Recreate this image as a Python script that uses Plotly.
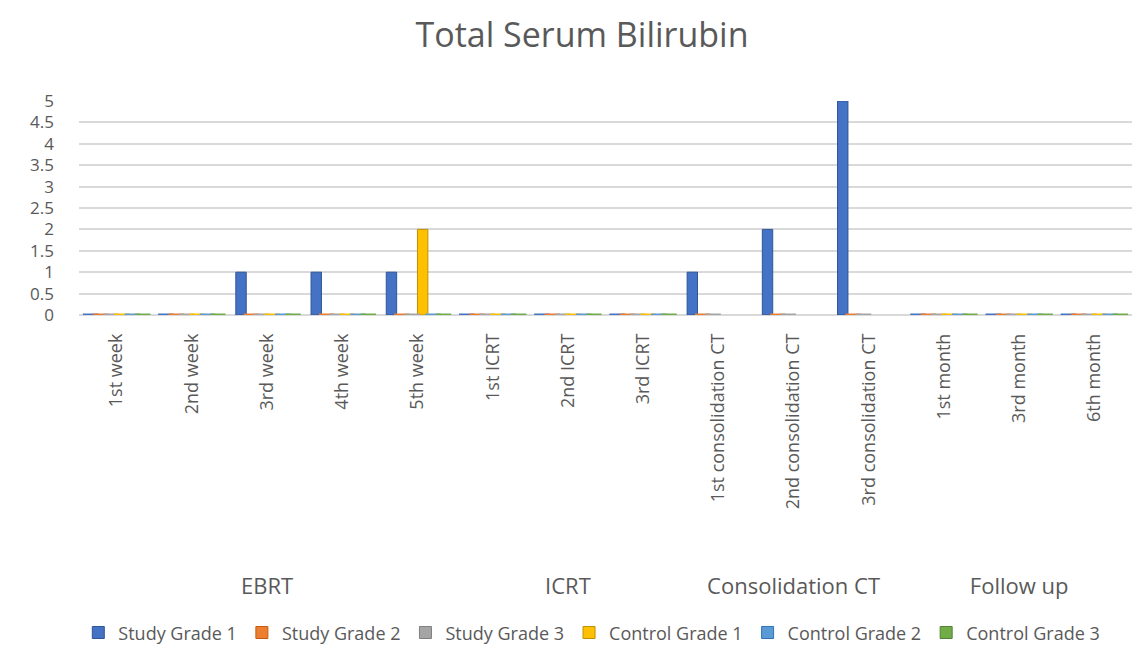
import plotly.graph_objects as go

fases = ['EBRT'] * 5 + ['ICRT'] * 3 + ['Consolidation CT'] * 3 + ['Follow up'] * 3
momentos = ['1st week', '2nd week', '3rd week', '4th week', '5th week',
            '1st ICRT', '2nd ICRT', '3rd ICRT',
            '1st consolidation CT', '2nd consolidation CT', '3rd consolidation CT',
            '1st month', '3rd month', '6th month']

study_grade_1 = [0, 0, 1, 1, 1, 0, 0, 0, 1, 2, 5, 0, 0, 0]
study_grade_2 = [0, 0, 0, 0, 0, 0, 0, 0, 0, 0, 0, 0, 0, 0]
study_grade_3 = [0, 0, 0, 0, 0, 0, 0, 0, 0, 0, 0, 0, 0, 0]
control_grade_1 = [0, 0, 0, 0, 2, 0, 0, 0, None, None, None, 0, 0, 0]
control_grade_2 = [0, 0, 0, 0, 0, 0, 0, 0, None, None, None, 0, 0, 0]
control_grade_3 = [0, 0, 0, 0, 0, 0, 0, 0, None, None, None, 0, 0, 0]

series = [
    ('Study Grade 1', study_grade_1, '#4472C4', '#2F5597'),
    ('Study Grade 2', study_grade_2, '#ED7D31', '#C55A11'),
    ('Study Grade 3', study_grade_3, '#A5A5A5', '#7F7F7F'),
    ('Control Grade 1', control_grade_1, '#FFC000', '#BF9000'),
    ('Control Grade 2', control_grade_2, '#5B9BD5', '#2E75B6'),
    ('Control Grade 3', control_grade_3, '#70AD47', '#548235'),
]

# centro de cada grupo (EBRT, ICRT...) a partir dos indices das categorias
grupos = list(dict.fromkeys(fases))
centros = []
for g in grupos:
    idx = [i for i, f in enumerate(fases) if f == g]
    centros.append(sum(idx) / len(idx))

fig = go.Figure()
for nome, valores, cor, borda in series:
    fig.add_trace(go.Bar(x=momentos, y=valores, name=nome,
                         offsetgroup=nome,
                         marker=dict(color=cor, line=dict(color=borda, width=1))))
    # os zeros aparecem como um "piso" fino no grafico original
    zeros = [0 if v == 0 else None for v in valores]
    fig.add_trace(go.Scatter(x=momentos, y=zeros, mode='markers',
                             offsetgroup=nome, showlegend=False, hoverinfo='skip',
                             marker=dict(symbol='line-ew', size=11,
                                         line=dict(color=cor, width=3))))

# eixo auxiliar so para os rotulos dos grupos
fig.add_trace(go.Scatter(x=centros, y=[None] * len(centros), xaxis='x2',
                         showlegend=False, hoverinfo='skip'))

fig.update_layout(
    width=1148, height=655,
    paper_bgcolor='white', plot_bgcolor='white',
    font=dict(family='Open Sans', color='#595959', size=18),
    title=dict(text='Total Serum Bilirubin', x=0.5, xanchor='center',
               y=0.958, yanchor='middle', font=dict(size=34, color='#595959')),
    barmode='group', bargap=0.17, bargroupgap=0,
    scattermode='group', scattergap=0.17,
    margin=dict(l=71, r=24, t=93, b=342),
    legend=dict(orientation='h', x=0.487, xanchor='center', y=-1.485, yanchor='middle',
                font=dict(size=18, color='#595959'), itemclick=False,
                itemwidth=30),
    showlegend=True,
    xaxis=dict(tickangle=-90, showline=False, ticks='', ticklabelstandoff=14,
               tickfont=dict(size=18, color='#595959')),
    xaxis2=dict(overlaying='x', side='bottom', anchor='y', range=[-0.5, len(momentos) - 0.5],
                tickvals=centros, ticktext=grupos, tickangle=0, showgrid=False,
                zeroline=False, showline=False, ticks='', ticklabelstandoff=256,
                tickfont=dict(size=22, color='#595959')),
)
fig.update_yaxes(range=[0, 5], dtick=0.5, showgrid=True, gridcolor='#D9D9D9',
                 gridwidth=2, zeroline=True, zerolinecolor='#D9D9D9', zerolinewidth=2,
                 tickfont=dict(size=17, color='#595959'), ticklabelstandoff=24)

fig.write_html('out.html')
